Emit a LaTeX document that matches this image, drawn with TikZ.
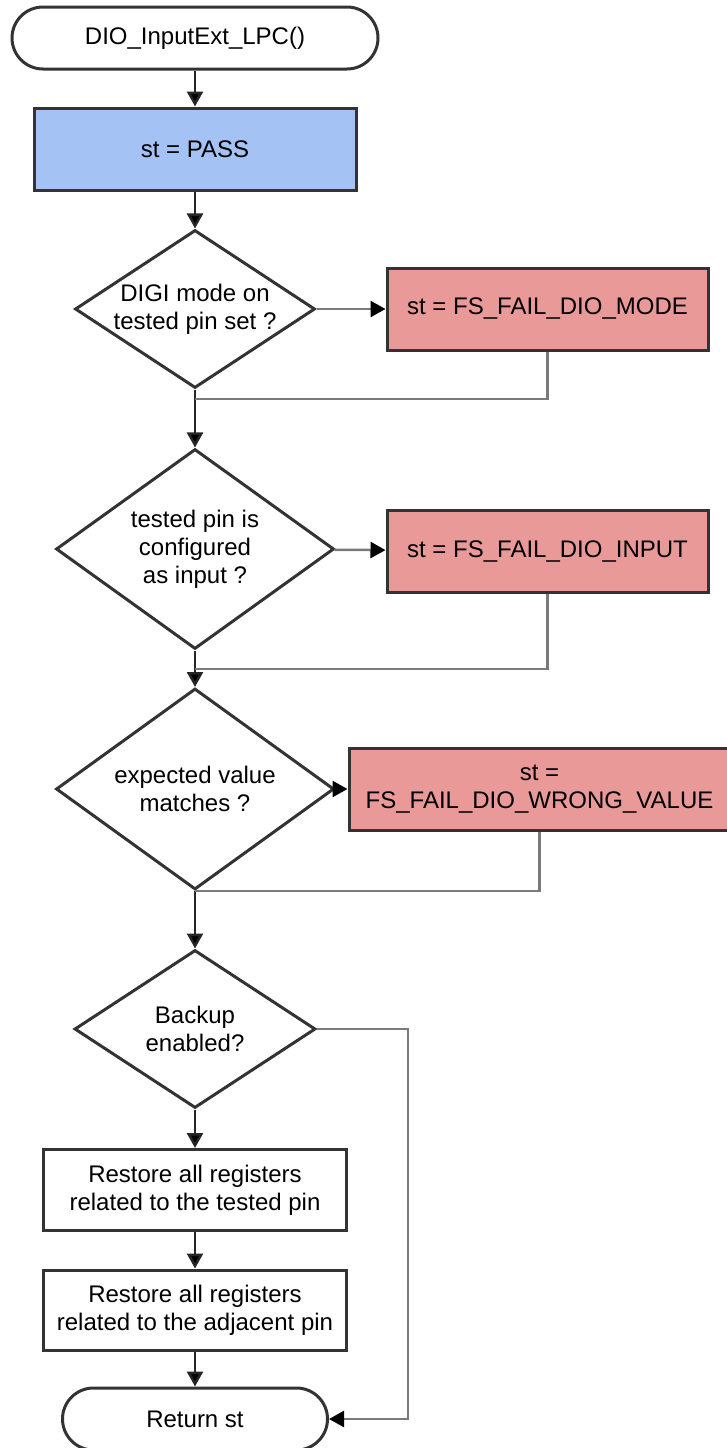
\documentclass[tikz,border=0pt]{standalone}
\usepackage{fontspec}
\setmainfont{Liberation Sans}
\usetikzlibrary{shapes.geometric,arrows.meta}
\definecolor{passblue}{HTML}{A4C2F4}
\definecolor{failred}{HTML}{EA9999}
\definecolor{edgegray}{HTML}{333333}
\definecolor{backgray}{HTML}{7A7A7A}

\begin{document}
\begin{tikzpicture}[x=1pt,y=-1pt,>={Triangle[length=15pt,width=16pt]},
  every node/.style={font=\fontsize{24}{28}\selectfont,align=center,inner sep=0pt},
  term node/.style={draw=edgegray,line width=3pt,rectangle,rounded corners=31pt,minimum height=62pt},
  act node/.style={draw=edgegray,line width=3pt,rectangle,minimum height=82pt},
  ask node/.style={draw=edgegray,line width=3pt,diamond,inner sep=-3pt},
  flow/.style={->,draw=black!85,line width=2.5pt},
  back/.style={draw=backgray,line width=2.5pt},
  side/.style={back,-{Triangle[length=15pt,width=16pt,color=black]}}]

    \useasboundingbox (0,0) rectangle (727,1448);

    % main column
    \node[term node,minimum width=366pt] (start) at (195,38) {DIO\_InputExt\_LPC()};
    \node[act node,fill=passblue,minimum width=322pt] (pass) at (195,149) {st = PASS};
    \node[ask node,aspect=1.52,minimum width=240pt,minimum height=158pt] (qmode) at (195,309) {DIGI mode on\\tested pin set ?};
    \node[ask node,aspect=1.39,minimum width=278pt,minimum height=200pt] (qinput) at (195,549) {tested pin is\\configured\\as input ?};
    \node[ask node,aspect=1.39,minimum width=278pt,minimum height=201pt] (qvalue) at (195,789) {expected value\\matches ?};
    \node[ask node,aspect=1.52,minimum width=241pt,minimum height=158pt] (qbackup) at (195,1029) {Backup\\enabled?};
    \node[act node,minimum width=303pt,minimum height=81pt] (rtested) at (195,1190) {Restore all registers\\related to the tested pin};
    \node[act node,minimum width=303pt,minimum height=80pt] (radjacent) at (195,1310) {Restore all registers\\related to the adjacent pin};
    \node[term node,minimum width=265pt] (stop) at (195,1419) {Return st};

    % failure branches
    \node[act node,fill=failred,minimum width=321pt] (failmode) at (547.5,309) {st = FS\_FAIL\_DIO\_MODE};
    \node[act node,fill=failred,minimum width=321pt] (failinput) at (547.5,551) {st = FS\_FAIL\_DIO\_INPUT};
    \node[act node,fill=failred,minimum width=381pt] (failvalue) at (539.5,789) {st =\\FS\_FAIL\_DIO\_WRONG\_VALUE};

    \coordinate (jmode) at (195,399);
    \coordinate (jinput) at (195,669);
    \coordinate (jbackup) at (408,1029);

    \path[flow]
        (start) edge (pass)
        (pass) edge (qmode)
        (qmode) edge (qinput)
        (qinput) edge (qvalue)
        (qvalue) edge (qbackup)
        (qbackup) edge (rtested)
        (rtested) edge (radjacent)
        (radjacent) edge (stop)
        ;

    \draw[side] (qmode) -- (failmode);
    \draw[side] (qinput) -- (failinput);
    \draw[side] (qvalue) -- (failvalue);
    \draw[back] (failmode.south) |- (jmode);
    \draw[back] (failinput.south) |- (jinput);
    \draw[back] (failvalue.south) |- (qvalue.south);
    \draw[side] (qbackup.east) -- (jbackup) |- (stop.east);
\end{tikzpicture}
\end{document}
